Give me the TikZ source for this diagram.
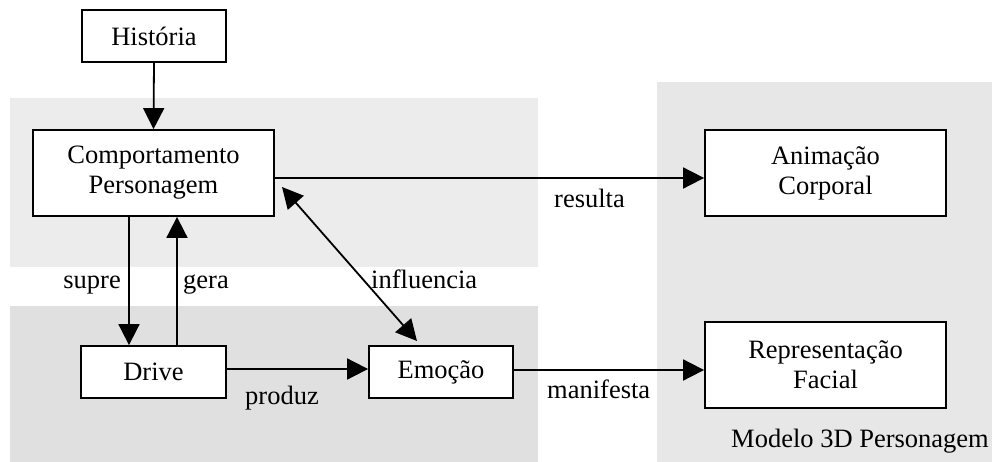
\documentclass[tikz,border=0pt]{standalone}
\usepackage{fontspec}
\setmainfont{Liberation Serif}
\usetikzlibrary{arrows.meta}
\definecolor{bandtop}{RGB}{236,236,236}
\definecolor{bandbot}{RGB}{224,224,224}
\definecolor{bandright}{RGB}{231,231,231}
\tikzset{
  box/.style={draw=black, line width=1.8pt, fill=white, inner sep=0pt, align=center,
    font=\fontsize{26.5}{30}\selectfont},
  arr/.style={line width=1.8pt, -{Triangle[length=21pt,width=21pt]}},
  darr/.style={line width=1.8pt, {Triangle[length=21pt,width=21pt]}-{Triangle[length=21pt,width=21pt]}},
  lbl/.style={inner sep=0pt, font=\fontsize{26.5}{30}\selectfont}
}
\begin{document}
\begin{tikzpicture}[x=1pt,y=-1pt]
\useasboundingbox (0,0) rectangle (992,462);
% background bands
\fill[bandtop] (10,98) rectangle (538,267);
\fill[bandbot] (10,306) rectangle (538,462);
\fill[bandright] (657,82) rectangle (992,462);
% boxes
\node[box, minimum width=144pt, minimum height=52pt] (hist) at (154,36) {História};
\node[box, minimum width=241pt, minimum height=86pt] (comp) at (153.5,173) {Comportamento\\Personagem};
\node[box, minimum width=145pt, minimum height=52pt] (drive) at (153.5,372) {Drive};
\node[box, minimum width=144pt, minimum height=52pt] (emo) at (441,372) {Emoção};
\node[box, minimum width=241pt, minimum height=86pt] (anim) at (825.5,173) {Animação\\Corporal};
\node[box, minimum width=241pt, minimum height=86pt] (rep) at (825.5,365) {Representação\\Facial};
% helper coordinates
\coordinate (sx) at (129,0);
\coordinate (gx) at (177,0);
\coordinate (ry) at (0,178);
\coordinate (py) at (0,369);
\coordinate (my) at (0,370);
\coordinate (infa) at (282,187);
\coordinate (infb) at (417,341);
% connectors
\draw[arr] (hist.south) -- (comp.north);
\draw[arr] (comp.south -| sx) -- (drive.north -| sx);
\draw[arr] (drive.north -| gx) -- (comp.south -| gx);
\draw[arr] (comp.east |- ry) -- (anim.west |- ry);
\draw[arr] (drive.east |- py) -- (emo.west |- py);
\draw[arr] (emo.east |- my) -- (rep.west |- my);
\draw[darr] (infa) -- (infb);
% labels
\node[lbl, anchor=base east] (lsupre) at (121,288) {supre};
\node[lbl, anchor=base west] (lgera) at (183,288) {gera};
\node[lbl, anchor=base west] (linf) at (371,288) {influencia};
\node[lbl, anchor=base west] (lprod) at (245,404) {produz};
\node[lbl, anchor=base west] (lres) at (554,208) {resulta};
\node[lbl, anchor=base west] (lman) at (547,398) {manifesta};
\node[lbl, anchor=base west] (lmod) at (731,447) {Modelo 3D Personagem};
\end{tikzpicture}
\end{document}
